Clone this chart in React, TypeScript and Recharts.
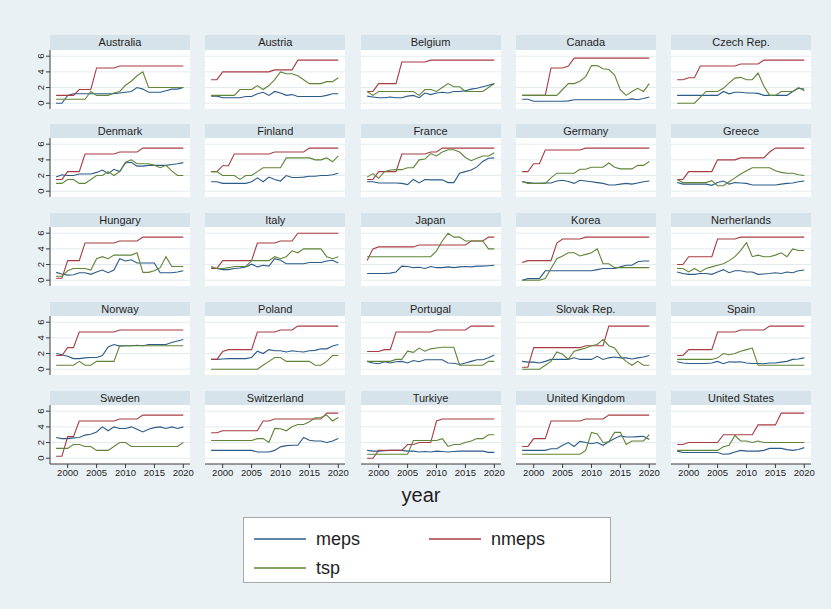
import React from "react";
import { Line, LineChart, ReferenceLine, XAxis, YAxis } from "recharts";

const years = [
  1998, 1999, 2000, 2001, 2002, 2003, 2004, 2005, 2006, 2007, 2008, 2009,
  2010, 2011, 2012, 2013, 2014, 2015, 2016, 2017, 2018, 2019, 2020,
];

const countries = [
  "Australia", "Austria", "Belgium", "Canada", "Czech Rep.",
  "Denmark", "Finland", "France", "Germany", "Greece",
  "Hungary", "Italy", "Japan", "Korea", "Nerherlands",
  "Norway", "Poland", "Portugal", "Slovak Rep.", "Spain",
  "Sweden", "Switzerland", "Turkiye", "United Kingdom", "United States",
];

const yearTicks = [2000, 2005, 2010, 2015, 2020];
const levelTicks = [0, 2, 4, 6];

// one row per country, same order as `countries`, values for 1998..2020
const mepsByCountry: number[][] = [
  [0, 0, 1, 1.2, 1.2, 1.2, 1.2, 1.2, 1.2, 1.2, 1.2, 1.3, 1.4, 1.5, 2, 1.8, 1.4, 1.4, 1.4, 1.6, 1.8, 1.8, 2],
  [0.9, 0.9, 0.7, 0.7, 0.7, 0.7, 0.85, 0.85, 1.2, 1.4, 1, 1.5, 1.3, 1, 1.1, 0.85, 0.85, 0.85, 0.85, 0.85, 1, 1.2, 1.2],
  [0.9, 0.8, 0.7, 0.7, 0.8, 0.7, 0.7, 0.9, 1, 0.7, 1.3, 1.1, 1.3, 1.4, 1.3, 1.5, 1.5, 1.6, 1.8, 1.9, 2.1, 2.3, 2.5],
  [0.5, 0.5, 0.25, 0.25, 0.25, 0.25, 0.25, 0.25, 0.3, 0.45, 0.45, 0.45, 0.45, 0.45, 0.45, 0.45, 0.45, 0.45, 0.45, 0.55, 0.45, 0.6, 0.8],
  [1, 1, 1, 1, 1, 1, 1, 1, 1.5, 1.2, 1.4, 1.4, 1.3, 1.3, 1.25, 1, 1, 1, 1, 1, 1.5, 1.9, 1.8],
  [1.8, 2.1, 2, 2, 2.2, 2.2, 2.2, 2.4, 2.7, 2.25, 2.8, 2.5, 3.6, 3.7, 3.2, 3.2, 3.3, 3.3, 3.3, 3.3, 3.4, 3.5, 3.65],
  [1.2, 1.2, 1, 1, 1, 1, 1, 1.2, 1.7, 1.2, 1.8, 1.5, 1.3, 2, 1.75, 1.75, 1.8, 1.9, 1.9, 2, 2, 2.1, 2.3],
  [1.2, 1.2, 1.05, 1.05, 1.05, 1.05, 1, 0.85, 1.5, 1.05, 1.5, 1.45, 1.45, 1.45, 1.1, 1.1, 2.3, 2.5, 2.7, 3.1, 3.8, 4.2, 4.25],
  [1.2, 1.1, 1, 1, 1.05, 1.05, 1.3, 1.4, 1.25, 1, 1.4, 1.3, 1.2, 1.1, 1, 0.8, 0.8, 0.9, 1, 0.9, 1.05, 1.2, 1.3],
  [1.1, 0.9, 0.9, 0.9, 0.9, 0.9, 0.75, 1.1, 1.3, 0.9, 1.1, 1.05, 1, 0.8, 0.8, 0.8, 0.8, 0.8, 0.9, 1, 1.05, 1.2, 1.3],
  [1, 0.8, 0.65, 0.7, 0.95, 0.95, 0.75, 1.05, 1.3, 0.95, 1.3, 2.75, 2.45, 2.6, 2.2, 2.2, 2.2, 2.2, 0.95, 0.95, 0.95, 1.05, 1.2],
  [1.55, 1.5, 1.35, 1.35, 1.5, 1.55, 1.7, 2.05, 1.7, 1.9, 1.8, 2.75, 2.55, 2.1, 2.1, 2.1, 2.1, 2.25, 2.25, 2.25, 2.45, 2.55, 2.2],
  [0.85, 0.85, 0.85, 0.85, 0.9, 1.05, 1.8, 1.75, 1.6, 1.65, 1.5, 1.75, 1.6, 1.6, 1.7, 1.6, 1.7, 1.75, 1.7, 1.8, 1.8, 1.85, 1.9],
  [0, 0.2, 0.2, 0.2, 1.2, 1.2, 1.2, 1.2, 1.2, 1.2, 1.2, 1.2, 1.2, 1.35, 1.5, 1.5, 1.5, 1.7, 1.9, 1.9, 2.35, 2.45, 2.45],
  [1.05, 0.85, 0.75, 0.75, 0.85, 0.85, 0.75, 1.05, 1.35, 0.95, 1.2, 1.2, 1.05, 1.05, 0.75, 0.8, 0.85, 0.95, 0.85, 1.05, 0.95, 1.2, 1.3],
  [2, 1.85, 1.65, 1.35, 1.35, 1.45, 1.5, 1.5, 1.75, 2.85, 3.15, 2.95, 3, 3, 3.05, 3, 3.15, 3.15, 3.15, 3.15, 3.4, 3.6, 3.8],
  [1.25, 1.25, 1.3, 1.35, 1.35, 1.35, 1.35, 1.5, 2.3, 2, 2.5, 2.35, 2.35, 2.2, 2.35, 2.25, 2.2, 2.35, 2.4, 2.6, 2.6, 2.95, 3.15],
  [1, 0.8, 0.7, 0.95, 0.8, 0.95, 1, 0.8, 1.1, 0.95, 1.2, 1.2, 1.2, 1.2, 0.8, 0.75, 0.6, 0.8, 1, 1.2, 1.2, 1.45, 1.8],
  [1, 0.9, 0.9, 0.8, 1, 1.25, 1.25, 1.25, 1.25, 1.45, 1.25, 1.25, 1.25, 1.65, 1.25, 1.45, 1.55, 1.45, 1.45, 1.3, 1.45, 1.55, 1.75],
  [0.95, 0.8, 0.72, 0.72, 0.72, 0.72, 0.8, 1, 0.7, 0.95, 0.9, 0.95, 0.8, 0.72, 0.72, 0.7, 0.8, 0.8, 0.9, 1, 1.25, 1.3, 1.45],
  [2.65, 2.5, 2.5, 2.6, 2.65, 2.95, 3.05, 3.35, 4, 3.5, 4, 3.8, 3.8, 4, 3.7, 3.35, 3.7, 3.9, 4, 3.8, 4, 3.8, 4],
  [1, 1, 1, 1, 1, 1, 1, 1, 0.8, 0.8, 0.8, 1, 1.45, 1.6, 1.65, 1.65, 2.65, 2.3, 2.2, 2.2, 2, 2.2, 2.5],
  [1, 0.9, 0.9, 0.95, 1, 1, 1, 0.9, 0.9, 0.8, 0.85, 0.8, 0.9, 0.85, 0.8, 0.85, 0.9, 0.9, 0.9, 0.9, 0.9, 0.75, 0.75],
  [1, 1, 1, 1, 1, 1.2, 1.2, 1.65, 2, 1.5, 2.15, 2, 1.85, 2, 1.65, 2.1, 2.5, 2.85, 2.7, 2.7, 2.75, 2.8, 2.4],
  [0.9, 0.72, 0.72, 0.72, 0.72, 0.72, 0.72, 0.72, 0.5, 0.55, 0.8, 1, 0.9, 0.9, 0.9, 1, 1.25, 1.25, 1.25, 1.1, 1, 1.1, 1.35],
];

const nmepsByCountry: number[][] = [
  [1, 1, 1, 1, 1.75, 1.75, 1.75, 4.5, 4.5, 4.5, 4.5, 4.75, 4.75, 4.75, 4.75, 4.75, 4.75, 4.75, 4.75, 4.75, 4.75, 4.75, 4.75],
  [3, 3, 4, 4, 4, 4, 4, 4, 4, 4, 4, 4.25, 4.25, 4.25, 4.25, 5.5, 5.5, 5.5, 5.5, 5.5, 5.5, 5.5, 5.5],
  [1.5, 1.5, 2.5, 2.5, 2.5, 2.5, 5.25, 5.25, 5.25, 5.25, 5.25, 5.5, 5.5, 5.5, 5.5, 5.5, 5.5, 5.5, 5.5, 5.5, 5.5, 5.5, 5.5],
  [1, 1, 1, 1, 1, 4.5, 4.5, 4.5, 4.75, 5.75, 5.75, 5.75, 5.75, 5.75, 5.75, 5.75, 5.75, 5.75, 5.75, 5.75, 5.75, 5.75, 5.75],
  [3, 3, 3.25, 3.25, 4.75, 4.75, 4.75, 4.75, 4.75, 4.75, 4.75, 5, 5, 5, 5, 5.5, 5.5, 5.5, 5.5, 5.5, 5.5, 5.5, 5.5],
  [1.5, 1.5, 2.5, 2.5, 2.5, 4.75, 4.75, 4.75, 4.75, 4.75, 4.75, 5, 5, 5, 5, 5.5, 5.5, 5.5, 5.5, 5.5, 5.5, 5.5, 5.5],
  [2.5, 2.5, 3.25, 3.25, 4.75, 4.75, 4.75, 4.75, 4.75, 4.75, 4.75, 5, 5, 5, 5, 5, 5, 5.5, 5.5, 5.5, 5.5, 5.5, 5.5],
  [1.5, 1.5, 2.5, 2.5, 2.5, 2.5, 4.75, 4.75, 4.75, 4.75, 4.75, 5, 5, 5.5, 5.5, 5.5, 5.5, 5.5, 5.5, 5.5, 5.5, 5.5, 5.5],
  [2.5, 2.5, 3.5, 3.5, 5.25, 5.25, 5.25, 5.25, 5.25, 5.25, 5.25, 5.5, 5.5, 5.5, 5.5, 5.5, 5.5, 5.5, 5.5, 5.5, 5.5, 5.5, 5.5],
  [1.5, 1.5, 2.5, 2.5, 2.5, 2.5, 2.5, 4, 4, 4, 4, 4.25, 4.25, 4.25, 4.25, 4.25, 5, 5.5, 5.5, 5.5, 5.5, 5.5, 5.5],
  [0.25, 0.25, 2.5, 2.5, 2.5, 4.75, 4.75, 4.75, 4.75, 4.75, 4.75, 5, 5, 5, 5, 5.5, 5.5, 5.5, 5.5, 5.5, 5.5, 5.5, 5.5],
  [1.5, 1.5, 2.5, 2.5, 2.5, 2.5, 2.5, 2.5, 4.75, 4.75, 4.75, 4.75, 5, 5, 5, 6, 6, 6, 6, 6, 6, 6, 6],
  [2.5, 4, 4.25, 4.25, 4.25, 4.25, 4.25, 4.25, 4.25, 4.5, 4.5, 4.5, 4.5, 4.5, 4.5, 4.5, 4.5, 4.5, 5, 5, 5, 5.5, 5.5],
  [2.25, 2.5, 2.5, 2.5, 2.5, 2.5, 4.75, 5.25, 5.25, 5.25, 5.25, 5.5, 5.5, 5.5, 5.5, 5.5, 5.5, 5.5, 5.5, 5.5, 5.5, 5.5, 5.5],
  [2, 2, 3, 3, 3, 3, 3, 5.25, 5.25, 5.25, 5.25, 5.5, 5.5, 5.5, 5.5, 5.5, 5.5, 5.5, 5.5, 5.5, 5.5, 5.5, 5.5],
  [1.75, 1.75, 2.75, 2.75, 4.75, 4.75, 4.75, 4.75, 4.75, 4.75, 4.75, 5, 5, 5, 5, 5, 5, 5, 5, 5, 5, 5, 5],
  [1.25, 1.25, 2.25, 2.5, 2.5, 2.5, 2.5, 2.5, 4.75, 4.75, 4.75, 4.75, 5, 5, 5, 5.5, 5.5, 5.5, 5.5, 5.5, 5.5, 5.5, 5.5],
  [2.25, 2.25, 2.25, 2.5, 2.5, 4.75, 4.75, 4.75, 4.75, 4.75, 4.75, 4.75, 5, 5, 5, 5, 5, 5, 5.5, 5.5, 5.5, 5.5, 5.5],
  [0.25, 0.25, 2.75, 2.75, 2.75, 2.75, 2.75, 2.75, 2.75, 2.75, 2.75, 3, 3, 3, 3, 5.5, 5.5, 5.5, 5.5, 5.5, 5.5, 5.5, 5.5],
  [1.75, 1.75, 2.5, 2.5, 2.5, 2.5, 2.5, 4.75, 4.75, 4.75, 4.75, 5, 5, 5, 5, 5, 5.5, 5.5, 5.5, 5.5, 5.5, 5.5, 5.5],
  [0.25, 0.25, 2.75, 2.75, 4.75, 4.75, 4.75, 4.75, 4.75, 4.75, 4.75, 5, 5, 5, 5, 5.5, 5.5, 5.5, 5.5, 5.5, 5.5, 5.5, 5.5],
  [3.25, 3.25, 3.5, 3.5, 3.5, 3.5, 3.5, 3.5, 3.5, 4.75, 4.75, 5, 5, 5, 5, 5, 5, 5, 5, 5, 5.75, 5.75, 5.75],
  [0, 0, 1, 1, 1, 1, 1, 1.75, 1.75, 2, 2, 2, 4.75, 5, 5, 5, 5, 5, 5, 5, 5, 5, 5],
  [1.5, 1.5, 2.5, 2.5, 2.5, 4.75, 4.75, 4.75, 4.75, 4.75, 4.75, 5, 5, 5, 5, 5.5, 5.5, 5.5, 5.5, 5.5, 5.5, 5.5, 5.5],
  [1.75, 1.75, 2, 2, 2, 2, 2, 2, 3, 3, 3, 3, 3, 3, 4.25, 4.25, 4.25, 4.25, 5.75, 5.75, 5.75, 5.75, 5.75],
];

const tspByCountry: number[][] = [
  [0.5, 0.5, 0.5, 0.5, 0.5, 0.5, 1.5, 1, 1, 1, 1.3, 1.5, 2.3, 2.8, 3.5, 4, 2, 2, 2, 2, 2, 2, 2],
  [1, 1, 1, 1, 1, 1.75, 1.75, 1.75, 2.25, 1.75, 2.25, 3, 4, 3.75, 3.75, 3.5, 3, 2.5, 2.5, 2.5, 2.75, 2.75, 3.25],
  [1.5, 1, 1.5, 1.5, 1.5, 1.5, 1.5, 1.5, 1.5, 1, 1.75, 1.75, 1.5, 2, 2.5, 2.1, 2.1, 1.5, 1.5, 1.5, 1.5, 2, 2.5],
  [1, 1, 1, 1, 1, 1, 1, 1.75, 2.5, 2.5, 2.8, 3.4, 4.8, 4.8, 4.4, 4.3, 3.6, 1.7, 1, 1.5, 1.9, 1.5, 2.5],
  [0, 0, 0, 0, 0.75, 1.5, 1.5, 1.5, 1.9, 2.6, 3.2, 3.3, 3, 3, 3.85, 2.2, 1, 1, 1.5, 1.5, 1.5, 2, 1.6],
  [1, 1, 1.5, 1.5, 1, 1, 1.5, 2, 2, 2.5, 2, 2.5, 3.7, 4, 3.5, 3.5, 3.5, 3.3, 3, 3.3, 2.6, 2, 2],
  [2.5, 2.5, 2, 2, 2, 1.5, 2, 2, 2.5, 3, 3, 3, 3, 4.25, 4.25, 4.25, 4.25, 4.25, 4, 4, 4.25, 3.75, 4.5],
  [1.8, 2.25, 1.65, 2.5, 2.7, 2.75, 2.75, 3, 3, 4, 4.1, 4.8, 4.5, 5, 5.3, 5.3, 5, 4.3, 3.9, 4.2, 4.5, 4.5, 4.9],
  [1.25, 1, 1, 1, 1, 1.7, 2.3, 2.3, 2.3, 2.3, 2.8, 2.8, 3.05, 3.05, 3.05, 3.6, 3.05, 2.85, 2.85, 2.85, 3.3, 3.3, 3.8],
  [1.5, 1.1, 1.1, 1.1, 1.1, 1.1, 1.35, 0.7, 0.7, 1.2, 1.7, 2.2, 2.6, 3, 3, 3, 3, 2.6, 2.4, 2.3, 2.3, 2.1, 2],
  [0.5, 0.5, 1.2, 1.5, 1.5, 1.5, 1.3, 2.75, 3, 2.75, 3.2, 3.2, 3.2, 3.2, 3.5, 1, 1, 1.2, 1.6, 3, 1.75, 1.75, 1.75],
  [1.75, 1.5, 1.5, 1.6, 1.75, 1.75, 1.75, 2.5, 2.5, 2.5, 2.5, 3, 2.75, 3, 3.75, 3.5, 4, 4, 4, 4, 3, 2.75, 3],
  [3, 3, 3, 3, 3, 3, 3, 3, 3, 3, 3, 3, 3.75, 5, 6, 5.5, 5.5, 5, 5, 5, 5, 4, 4],
  [0, 0, 0, 0, 0.2, 1.5, 2.75, 3.1, 3.5, 3.5, 3.1, 3.3, 3.5, 4, 2.1, 2.1, 1.6, 1.6, 1.6, 1.6, 1.6, 1.6, 1.6],
  [1.5, 1.5, 1.05, 1.5, 1.05, 1.5, 1.7, 1.9, 2.1, 2.5, 3, 3.8, 4.8, 3, 3.2, 3, 3, 3.2, 3.5, 3, 4, 3.8, 3.8],
  [0.5, 0.5, 0.5, 0.5, 1, 0.5, 0.5, 1, 1, 1, 1, 3, 3, 3, 3, 3, 3, 3, 3, 3, 3, 3, 3],
  [0, 0, 0, 0, 0, 0, 0, 0, 0, 0.5, 1, 1.5, 1.5, 1, 1, 1, 1, 1, 0.5, 0.5, 1, 1.75, 1.75],
  [1, 1, 1, 1, 1, 1.25, 1.25, 2.3, 2.15, 2.7, 2.3, 2.6, 2.7, 2.8, 2.8, 2.8, 0.5, 0.5, 0.5, 0.5, 0.5, 1, 1],
  [0, 0, 0, 0, 0.5, 1, 2.2, 1.9, 1.25, 2.3, 2.5, 2.7, 3, 3.15, 3.8, 3, 2.7, 1.65, 1, 0.5, 1, 0.5, 0.5],
  [1.25, 1.25, 1.25, 1.25, 1.25, 1.25, 1.25, 1.45, 2, 1.85, 2, 2.3, 2.5, 2.7, 0.5, 0.5, 0.5, 0.5, 0.5, 0.5, 0.5, 0.5, 0.5],
  [1.25, 1.25, 1.25, 1.75, 1.75, 1.5, 1.5, 1, 1, 1, 1.5, 2, 2, 1.5, 1.5, 1.5, 1.5, 1.5, 1.5, 1.5, 1.5, 1.5, 2],
  [2.25, 2.25, 2.25, 2.25, 2.25, 2.25, 2.25, 2.25, 2.5, 2.5, 2, 3.8, 3.75, 3.5, 4, 4.3, 4.3, 4.65, 5.15, 5.2, 5.5, 4.75, 5.2],
  [0.5, 0.5, 0.5, 0.5, 0.5, 0.5, 0.5, 0.5, 2.25, 2.25, 2.25, 2.25, 2.25, 2.5, 1.5, 1.75, 1.75, 2, 2.2, 2.5, 2.5, 3, 3],
  [0.5, 0.5, 0.5, 0.5, 0.5, 0.5, 0.5, 0.5, 0.5, 0.5, 0.5, 1, 3.3, 3.1, 2, 2.1, 3.3, 3.3, 1.75, 2.2, 2.2, 2.2, 3],
  [1, 1, 1, 1, 1, 1, 1, 1, 1.45, 1.65, 2.9, 2.2, 2.2, 2, 2.2, 2, 2, 2, 2, 2, 2, 2, 2],
];

const seriesKeys = ["meps", "nmeps", "tsp"];
const seriesColors: Record<string, string> = {
  meps: "#2b5b89",
  nmeps: "#a83c43",
  tsp: "#5f8537",
};

const FONT = '"Liberation Sans", Arial, Helvetica, sans-serif';
const BG = "#eaf1f4";
const STRIP = "#d7e3ea";
const INK = "#1e1e1e";

// panel grid geometry
const PLOT_LEFT = 50;
const COL_STEP = 155.25;
const PLOT_W = 140;
const TITLE_TOP = 35;
const ROW_STEP = 88.9;
const TITLE_H = 14.5;
const PLOT_H = 59;
const Y_AXIS_W = 20;
const X_AXIS_H = 18;
const LABEL_PAD = 14; // room for the last year label past the plot edge
const X_DOMAIN: [number, number] = [1996.94, 2021.16];
const Y_DOMAIN: [number, number] = [-0.74, 6.79];

const LevelTick = (props: any) => {
  const { x, y, payload } = props;
  return (
    <text
      x={x}
      y={y}
      transform={`rotate(-90 ${x} ${y})`}
      textAnchor="middle"
      fontSize={9.5}
      fontFamily={FONT}
      fill={INK}
    >
      {payload.value}
    </text>
  );
};

const Panel = ({ index }: { index: number }) => {
  const col = index % 5;
  const row = Math.floor(index / 5);
  const left = PLOT_LEFT + col * COL_STEP;
  const top = TITLE_TOP + row * ROW_STEP;
  const firstCol = col === 0;
  const lastRow = row === 4;
  const rightPad = lastRow ? LABEL_PAD : 0;

  const data = years.map((year, i) => ({
    year,
    meps: mepsByCountry[index][i],
    nmeps: nmepsByCountry[index][i],
    tsp: tspByCountry[index][i],
  }));

  return (
    <>
      <div
        style={{
          position: "absolute",
          left,
          top,
          width: PLOT_W,
          height: TITLE_H,
          background: STRIP,
          color: INK,
          fontSize: 11,
          lineHeight: `${TITLE_H}px`,
          textAlign: "center",
          whiteSpace: "nowrap",
        }}
      >
        {countries[index]}
      </div>
      <div
        style={{
          position: "absolute",
          left,
          top: top + TITLE_H,
          width: PLOT_W,
          height: PLOT_H,
          background: "#ffffff",
        }}
      />
      <div
        style={{
          position: "absolute",
          left: left - (firstCol ? Y_AXIS_W : 0),
          top: top + TITLE_H,
        }}
      >
        <LineChart
          width={PLOT_W + (firstCol ? Y_AXIS_W : 0) + rightPad}
          height={PLOT_H + (lastRow ? X_AXIS_H : 0)}
          data={data}
          margin={{ top: 0, right: rightPad, bottom: 0, left: 0 }}
        >
          <XAxis
            type="number"
            dataKey="year"
            domain={X_DOMAIN}
            ticks={yearTicks}
            allowDataOverflow
            hide={!lastRow}
            height={X_AXIS_H}
            tickSize={4}
            tickMargin={1}
            axisLine={{ stroke: "#3a3a3a" }}
            tickLine={{ stroke: "#3a3a3a" }}
            tick={{ fontSize: 9.5, fill: INK, fontFamily: FONT }}
            interval={0}
          />
          <YAxis
            type="number"
            domain={Y_DOMAIN}
            ticks={levelTicks}
            allowDataOverflow
            hide={!firstCol}
            width={Y_AXIS_W}
            tickSize={4}
            tickMargin={2}
            axisLine={{ stroke: "#3a3a3a" }}
            tickLine={{ stroke: "#3a3a3a" }}
            tick={<LevelTick />}
            interval={0}
          />
          {levelTicks.map((v) => (
            <ReferenceLine key={v} y={v} stroke="#e4ebef" strokeWidth={1} />
          ))}
          {seriesKeys.map((key) => (
            <Line
              key={key}
              type="linear"
              dataKey={key}
              stroke={seriesColors[key]}
              strokeWidth={1.1}
              dot={false}
              activeDot={false}
              isAnimationActive={false}
            />
          ))}
        </LineChart>
      </div>
    </>
  );
};

const LegendEntry = ({
  name,
  x,
  y,
}: {
  name: string;
  x: number;
  y: number;
}) => (
  <div
    style={{
      position: "absolute",
      left: x,
      top: y - 11,
      height: 22,
      display: "flex",
      alignItems: "center",
    }}
  >
    <svg width={52} height={4} style={{ display: "block" }}>
      <line x1={0} y1={2} x2={52} y2={2} stroke={seriesColors[name]} strokeWidth={1.6} />
    </svg>
    <span style={{ marginLeft: 10, fontSize: 18, color: INK }}>{name}</span>
  </div>
);

export default function App() {
  return (
    <div
      style={{
        position: "absolute",
        left: 0,
        top: 0,
        width: 831,
        height: 609,
        background: BG,
        fontFamily: FONT,
        overflow: "hidden",
      }}
    >
      {countries.map((_, i) => (
        <Panel key={i} index={i} />
      ))}
      <div
        style={{
          position: "absolute",
          left: 371,
          width: 100,
          top: 484,
          textAlign: "center",
          fontSize: 20,
          color: INK,
        }}
      >
        year
      </div>
      <div
        style={{
          position: "absolute",
          left: 243,
          top: 517,
          width: 368,
          height: 66,
          background: "#ffffff",
          border: "1px solid #a8a8a8",
          boxSizing: "border-box",
        }}
      >
        <LegendEntry name="meps" x={10} y={21} />
        <LegendEntry name="nmeps" x={185} y={21} />
        <LegendEntry name="tsp" x={10} y={50} />
      </div>
    </div>
  );
}
